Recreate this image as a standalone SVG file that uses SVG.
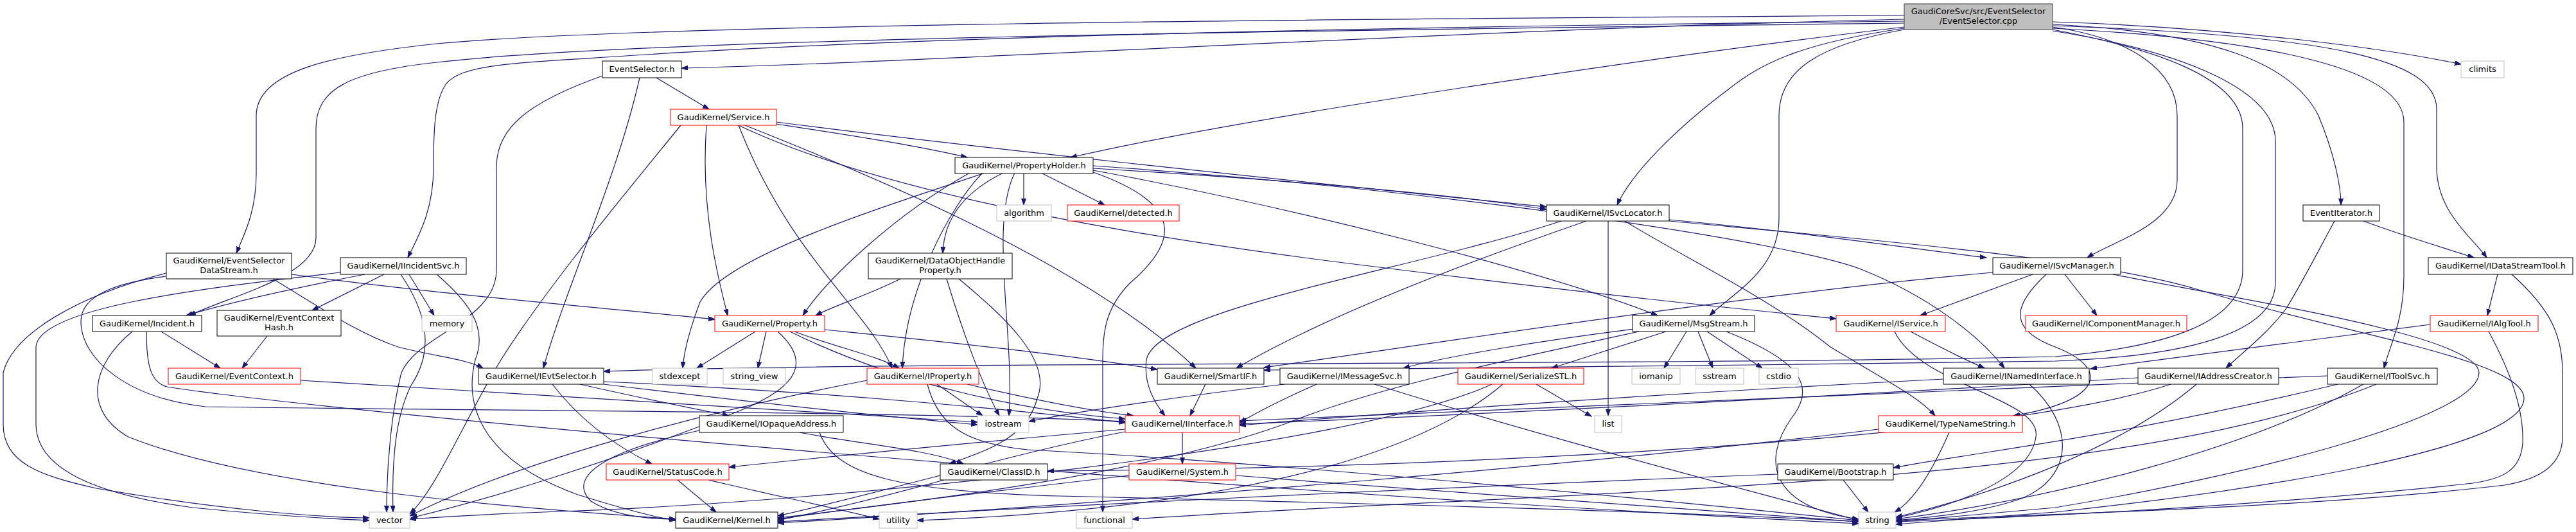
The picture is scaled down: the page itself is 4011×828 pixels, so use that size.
<svg xmlns="http://www.w3.org/2000/svg" width="4011" height="828" viewBox="0 0 4011 828">
<style>
.n rect{fill:#fff;stroke:#000;stroke-width:1}
.g rect{fill:#fff;stroke:#bfbfbf;stroke-width:1}
.r rect{fill:#fff;stroke:#ff0000;stroke-width:1}
.root rect{fill:#bfbfbf;stroke:#404040;stroke-width:1}
text{font-family:"DejaVu Sans","Noto Sans",sans-serif;font-size:13px;text-anchor:middle;fill:#000}
#edges path{fill:none;stroke:#191970;stroke-width:1.2;marker-end:url(#a)}
</style>
<defs>
<marker id="a" markerWidth="11" markerHeight="8" refX="10" refY="3.5" orient="auto" markerUnits="userSpaceOnUse"><path d="M0,0 L10,3.5 L0,7 z" fill="#191970" stroke="#191970" stroke-width="1"/></marker>
</defs>
<rect width="4011" height="828" fill="#fff"/>
<g id="edges">
<path d="M2965,30 C2300,45 1500,95 1061,106"/>
<path d="M2965,24 C2000,30 1000,38 680,68 C520,85 399,110 399,180 L399,270 C399,330 380,365 368,394"/>
<path d="M2965,36 C2000,48 1000,60 680,97 C540,112 492,140 492,200 L492,370 C492,430 360,460 295,491"/>
<path d="M2965,33 C2100,42 1400,58 960,88 C800,98 720,100 695,130 C677,155 675,200 675,260 C675,330 650,370 635,401"/>
<path d="M2965,42 C2600,85 1950,180 1667,245"/>
<path d="M2965,44 C2800,68 2740,100 2690,140 C2610,200 2540,270 2518,319"/>
<path d="M2965,46 C2830,70 2770,110 2770,180 L2770,340 C2770,420 2700,455 2662,491"/>
<path d="M3196,42 C3320,60 3390,110 3390,180 L3390,280 C3390,350 3290,375 3250,401"/>
<path d="M3196,38 C3450,50 3570,100 3610,180 C3635,240 3645,290 3645,319"/>
<path d="M3196,34 C3450,42 3700,72 3832,100"/>
<path d="M3196,40 C3620,55 3794,90 3794,170 L3794,260 C3794,330 3850,370 3872,401"/>
<path d="M3196,44 C3550,62 3743,110 3743,190 L3743,430 C3743,500 3720,540 3712,573"/>
<path d="M3196,46 C3350,75 3492,120 3492,200 L3492,420 C3492,500 3380,540 3200,555 C2500,570 1400,562 940,578"/>
<path d="M3196,48 C3400,80 3543,140 3543,220 L3543,440 C3543,520 3400,555 3200,562 C2800,568 2300,572 1968,576"/>
<path d="M3680,344 C3750,370 3820,390 3852,401"/>
<path d="M3635,344 C3610,390 3590,430 3560,480 C3530,520 3490,550 3466,573"/>
<path d="M3889,427 L3873,491"/>
<path d="M3911,427 C3970,480 3990,520 3990,580 L3990,680 C3990,720 3960,745 3900,755 C3600,790 3200,800 2952,810"/>
<path d="M3875,516 C3910,580 3930,640 3928,690 C3925,730 3900,745 3850,752 C3500,790 3150,805 2952,812"/>
<path d="M3784,505 C3550,535 3350,560 3255,574"/>
<path d="M3329,588 C2800,620 2300,645 1930,660"/>
<path d="M3380,598 C3100,690 2200,730 1631,733"/>
<path d="M3420,598 C3300,700 3100,770 2952,805"/>
<path d="M3624,585 C3000,608 2300,638 1930,655"/>
<path d="M3680,598 C3500,700 3200,775 2952,808"/>
<path d="M3700,598 C3300,760 2500,760 1763,808"/>
<path d="M3640,598 C3300,680 3100,700 2948,728"/>
<path d="M3026,590 C2600,612 2200,640 1930,662"/>
<path d="M3160,598 C3230,660 3230,740 3150,775 C3080,800 3000,805 2952,810"/>
<path d="M2975,516 C3020,540 3060,560 3090,573"/>
<path d="M2950,516 C2990,600 3180,620 3170,680 C3160,750 3030,790 2952,806"/>
<path d="M3165,427 L2990,491"/>
<path d="M3215,427 L3265,491"/>
<path d="M3186,427 C3140,470 3120,510 3200,540 C3290,575 3270,625 3135,647"/>
<path d="M3103,424 C2700,460 2200,540 1968,572"/>
<path d="M3290,427 C3450,460 3860,520 3860,580 C3860,650 3500,740 3200,790 L2952,812"/>
<path d="M2599,342 C2800,360 3000,390 3093,401"/>
<path d="M2504,344 L2504,647"/>
<path d="M2530,344 C2620,400 2750,460 2850,540 C2950,600 2990,620 3013,647"/>
<path d="M2431,344 C2200,420 1800,480 1785,560 C1780,600 1800,630 1814,647"/>
<path d="M2470,344 C2250,420 2050,500 1925,573"/>
<path d="M2599,344 C2900,372 3250,400 3420,450 C3650,520 3930,560 3930,620 C3930,700 3500,765 3200,797 L2952,816"/>
<path d="M2626,516 L2591,573"/>
<path d="M2644,516 L2667,573"/>
<path d="M2658,516 L2744,573"/>
<path d="M2594,516 L2416,573"/>
<path d="M2545,512 C2400,530 2250,555 2185,573"/>
<path d="M2688,516 C2800,560 2830,600 2790,650 C2740,720 2760,790 2894,808"/>
<path d="M2552,516 C2350,560 2150,600 2000,660 C1780,740 1400,785 1211,806"/>
<path d="M2050,598 C2000,620 1960,640 1930,658"/>
<path d="M2000,598 C1850,615 1680,640 1602,656"/>
<path d="M2140,598 C2400,680 2750,770 2894,810"/>
<path d="M2392,598 L2478,648"/>
<path d="M2323,598 C2100,700 1300,780 900,795 C750,800 680,805 638,808"/>
<path d="M2340,598 C2150,760 1700,800 1428,810"/>
<path d="M1089,670 C950,700 880,740 920,780 C960,805 1020,808 1052,808"/>
<path d="M1245,673 C1330,690 1450,700 1500,722"/>
<path d="M1276,673 C1300,740 1400,765 1650,772 C2200,785 2700,800 2894,812"/>
<path d="M860,598 C900,650 950,690 1015,722"/>
<path d="M903,598 C1000,620 1100,640 1135,647"/>
<path d="M940,594 C1300,610 1600,640 1752,658"/>
<path d="M940,598 C1200,630 1400,650 1522,661"/>
<path d="M1459,598 L1530,647"/>
<path d="M1506,598 C1600,620 1700,640 1765,647"/>
<path d="M1444,598 C1460,660 1500,690 1600,700 C2000,720 2600,780 2894,810"/>
<path d="M1350,592 C1100,640 800,720 638,803"/>
<path d="M1176,516 L1085,573"/>
<path d="M1193,516 L1180,573"/>
<path d="M1237,516 C1300,540 1370,555 1400,573"/>
<path d="M1211,516 C1260,560 1250,600 1150,640 C950,720 750,780 640,806"/>
<path d="M1230,516 C1400,600 1600,640 1752,652"/>
<path d="M1284,513 C1450,530 1650,550 1802,575"/>
<path d="M1402,434 C1350,460 1300,475 1270,491"/>
<path d="M1474,434 C1500,520 1530,600 1556,647"/>
<path d="M1493,434 C1560,490 1640,560 1615,620 C1600,680 1540,700 1478,722"/>
<path d="M468,592 C800,610 1200,640 1522,657"/>
<path d="M416,523 L377,573"/>
<path d="M251,516 L343,573"/>
<path d="M206,516 C140,570 130,640 200,680 C400,760 800,790 1052,808"/>
<path d="M228,516 C228,570 235,595 260,602 C500,640 1800,760 2894,815"/>
<path d="M568,427 C450,450 360,470 290,491"/>
<path d="M598,427 L486,483"/>
<path d="M637,427 L676,491"/>
<path d="M530,424 C300,450 60,480 56,540 L56,660 C56,730 150,770 300,790 C450,805 530,808 575,810"/>
<path d="M624,427 C660,480 680,540 640,600 C615,650 610,720 612,797"/>
<path d="M680,427 C730,470 760,510 740,560 C720,640 760,720 900,770 C980,795 1020,805 1052,810"/>
<path d="M259,425 C120,460 20,520 5,580 L5,660 C5,720 60,740 150,760 C350,795 500,805 575,806"/>
<path d="M259,430 C180,440 126,460 126,500 C126,560 200,620 320,633 C800,640 1400,640 1752,656"/>
<path d="M454,427 C700,460 950,480 1113,497"/>
<path d="M425,434 C500,480 560,520 620,540 C680,555 730,560 752,573"/>
<path d="M1055,747 L1115,797"/>
<path d="M1103,747 C1200,770 1320,795 1369,808"/>
<path d="M1841,673 L1841,722"/>
<path d="M1752,668 C1500,690 1250,715 1135,727"/>
<path d="M1752,672 C1600,700 1400,760 1211,803"/>
<path d="M1758,740 C1500,770 1300,795 1211,808"/>
<path d="M1924,740 C2300,770 2700,800 2894,812"/>
<path d="M1470,747 C1350,780 1260,800 1211,810"/>
<path d="M1877,598 L1853,647"/>
<path d="M2870,747 L2909,797"/>
<path d="M2768,738 C2200,760 1600,790 1211,812"/>
<path d="M3035,673 C3010,730 2980,780 2950,797"/>
<path d="M2925,668 C2500,720 1800,780 1211,814"/>
<path d="M1022,121 L1104,170"/>
<path d="M996,121 C960,280 880,450 846,573"/>
<path d="M938,118 C820,160 773,200 773,260 L773,420 C773,500 650,520 625,580 C610,640 602,720 602,797"/>
<path d="M1209,193 C1320,210 1420,225 1506,245"/>
<path d="M1209,190 C1600,240 2100,290 2408,322"/>
<path d="M1150,195 C1350,290 1700,360 2100,410 S2700,480 2859,496"/>
<path d="M1100,195 C1090,330 1120,440 1133,491"/>
<path d="M1150,195 C1230,400 1350,480 1389,573"/>
<path d="M1160,195 C1400,290 1700,420 1862,573"/>
<path d="M1060,195 C950,330 850,450 780,560 C720,660 680,760 638,800"/>
<path d="M1594,269 L1594,319"/>
<path d="M1621,269 L1720,319"/>
<path d="M1562,269 C1500,300 1470,340 1468,394"/>
<path d="M1702,262 C2000,280 2250,300 2408,326"/>
<path d="M1702,265 C2000,320 2400,420 2581,491"/>
<path d="M1530,269 C1480,320 1410,450 1405,573"/>
<path d="M1510,269 C1400,330 1290,430 1250,491"/>
<path d="M1534,269 C1350,330 1130,400 1090,470 C1075,510 1065,545 1063,573"/>
<path d="M1580,269 C1540,350 1580,520 1571,647"/>
<path d="M1702,268 C1850,320 1830,380 1760,440 C1720,480 1717,520 1717,560 L1717,797"/>
<path d="M1702,258 C2300,300 2800,380 2900,420 C3000,460 3080,520 3121,573"/>
</g>
<g id="n_root" class="root"><rect x="2965" y="6" width="231" height="40"/><text x="3080.5" y="22">GaudiCoreSvc/src/EventSelector</text><text x="3080.5" y="37">/EventSelector.cpp</text></g>
<g id="n_es" class="n"><rect x="938" y="95" width="123" height="26"/><text x="999.5" y="112">EventSelector.h</text></g>
<g id="n_climits" class="g"><rect x="3832" y="95" width="67" height="26"/><text x="3865.5" y="112">climits</text></g>
<g id="n_service" class="r"><rect x="1044" y="170" width="165" height="25"/><text x="1126.5" y="187">GaudiKernel/Service.h</text></g>
<g id="n_propholder" class="n"><rect x="1487" y="245" width="215" height="25"/><text x="1594.5" y="262">GaudiKernel/PropertyHolder.h</text></g>
<g id="n_algorithm" class="g"><rect x="1552" y="319" width="85" height="25"/><text x="1594.5" y="336">algorithm</text></g>
<g id="n_detected" class="r"><rect x="1662" y="319" width="174" height="25"/><text x="1749" y="336">GaudiKernel/detected.h</text></g>
<g id="n_svclocator" class="n"><rect x="2408" y="319" width="191" height="25"/><text x="2503.5" y="336">GaudiKernel/ISvcLocator.h</text></g>
<g id="n_eventiterator" class="n"><rect x="3586" y="319" width="119" height="25"/><text x="3645.5" y="336">EventIterator.h</text></g>
<g id="n_esds" class="n"><rect x="259" y="394" width="195" height="40"/><text x="356.5" y="410">GaudiKernel/EventSelector</text><text x="356.5" y="425">DataStream.h</text></g>
<g id="n_iincidentsvc" class="n"><rect x="530" y="401" width="196" height="26"/><text x="628" y="418">GaudiKernel/IIncidentSvc.h</text></g>
<g id="n_dohp" class="n"><rect x="1352" y="394" width="224" height="40"/><text x="1464" y="410">GaudiKernel/DataObjectHandle</text><text x="1464" y="425">Property.h</text></g>
<g id="n_svcmanager" class="n"><rect x="3103" y="401" width="199" height="26"/><text x="3202.5" y="418">GaudiKernel/ISvcManager.h</text></g>
<g id="n_datastreamtool" class="n"><rect x="3781" y="401" width="225" height="26"/><text x="3893.5" y="418">GaudiKernel/IDataStreamTool.h</text></g>
<g id="n_incident" class="n"><rect x="144" y="491" width="170" height="25"/><text x="229" y="508">GaudiKernel/Incident.h</text></g>
<g id="n_ech" class="n"><rect x="338" y="483" width="193" height="40"/><text x="434.5" y="499">GaudiKernel/EventContext</text><text x="434.5" y="514">Hash.h</text></g>
<g id="n_memory" class="g"><rect x="657" y="491" width="78" height="25"/><text x="696" y="508">memory</text></g>
<g id="n_property" class="r"><rect x="1113" y="491" width="171" height="25"/><text x="1198.5" y="508">GaudiKernel/Property.h</text></g>
<g id="n_msgstream" class="n"><rect x="2542" y="491" width="190" height="25"/><text x="2637" y="508">GaudiKernel/MsgStream.h</text></g>
<g id="n_iservice" class="r"><rect x="2859" y="491" width="170" height="25"/><text x="2944" y="508">GaudiKernel/IService.h</text></g>
<g id="n_icompmgr" class="r"><rect x="3154" y="491" width="251" height="25"/><text x="3279.5" y="508">GaudiKernel/IComponentManager.h</text></g>
<g id="n_ialgtool" class="r"><rect x="3784" y="491" width="168" height="25"/><text x="3868" y="508">GaudiKernel/IAlgTool.h</text></g>
<g id="n_eventcontext" class="r"><rect x="262" y="573" width="206" height="25"/><text x="365" y="590">GaudiKernel/EventContext.h</text></g>
<g id="n_ievtselector" class="n"><rect x="745" y="573" width="195" height="25"/><text x="842.5" y="590">GaudiKernel/IEvtSelector.h</text></g>
<g id="n_stdexcept" class="g"><rect x="1016" y="573" width="85" height="25"/><text x="1058.5" y="590">stdexcept</text></g>
<g id="n_string_view" class="g"><rect x="1126" y="573" width="97" height="25"/><text x="1174.5" y="590">string_view</text></g>
<g id="n_iproperty" class="r"><rect x="1350" y="573" width="174" height="25"/><text x="1437" y="590">GaudiKernel/IProperty.h</text></g>
<g id="n_smartif" class="n"><rect x="1802" y="573" width="166" height="25"/><text x="1885" y="590">GaudiKernel/SmartIF.h</text></g>
<g id="n_imessagesvc" class="n"><rect x="1993" y="573" width="201" height="25"/><text x="2093.5" y="590">GaudiKernel/IMessageSvc.h</text></g>
<g id="n_serializestl" class="r"><rect x="2270" y="573" width="196" height="25"/><text x="2368" y="590">GaudiKernel/SerializeSTL.h</text></g>
<g id="n_iomanip" class="g"><rect x="2541" y="573" width="75" height="25"/><text x="2578.5" y="590">iomanip</text></g>
<g id="n_sstream" class="g"><rect x="2640" y="573" width="75" height="25"/><text x="2677.5" y="590">sstream</text></g>
<g id="n_cstdio" class="g"><rect x="2739" y="573" width="61" height="25"/><text x="2769.5" y="590">cstdio</text></g>
<g id="n_inamedinterface" class="n"><rect x="3026" y="573" width="227" height="25"/><text x="3139.5" y="590">GaudiKernel/INamedInterface.h</text></g>
<g id="n_iaddresscreator" class="n"><rect x="3329" y="573" width="219" height="25"/><text x="3438.5" y="590">GaudiKernel/IAddressCreator.h</text></g>
<g id="n_itoolsvc" class="n"><rect x="3624" y="573" width="171" height="25"/><text x="3709.5" y="590">GaudiKernel/IToolSvc.h</text></g>
<g id="n_iopaqueaddress" class="n"><rect x="1089" y="647" width="224" height="26"/><text x="1201" y="664">GaudiKernel/IOpaqueAddress.h</text></g>
<g id="n_iostream" class="g"><rect x="1522" y="647" width="80" height="26"/><text x="1562" y="664">iostream</text></g>
<g id="n_iinterface" class="r"><rect x="1752" y="647" width="178" height="26"/><text x="1841" y="664">GaudiKernel/IInterface.h</text></g>
<g id="n_list" class="g"><rect x="2483" y="647" width="42" height="26"/><text x="2504" y="664">list</text></g>
<g id="n_typenamestring" class="r"><rect x="2925" y="647" width="224" height="26"/><text x="3037" y="664">GaudiKernel/TypeNameString.h</text></g>
<g id="n_statuscode" class="r"><rect x="944" y="722" width="191" height="25"/><text x="1039.5" y="739">GaudiKernel/StatusCode.h</text></g>
<g id="n_classid" class="n"><rect x="1464" y="722" width="167" height="25"/><text x="1547.5" y="739">GaudiKernel/ClassID.h</text></g>
<g id="n_system" class="r"><rect x="1758" y="722" width="166" height="25"/><text x="1841" y="739">GaudiKernel/System.h</text></g>
<g id="n_bootstrap" class="n"><rect x="2768" y="722" width="180" height="25"/><text x="2858" y="739">GaudiKernel/Bootstrap.h</text></g>
<g id="n_vector" class="g"><rect x="575" y="797" width="63" height="25"/><text x="606.5" y="814">vector</text></g>
<g id="n_kernel" class="n"><rect x="1052" y="797" width="159" height="25"/><text x="1131.5" y="814">GaudiKernel/Kernel.h</text></g>
<g id="n_utility" class="g"><rect x="1369" y="797" width="59" height="25"/><text x="1398.5" y="814">utility</text></g>
<g id="n_functional" class="g"><rect x="1676" y="797" width="87" height="25"/><text x="1719.5" y="814">functional</text></g>
<g id="n_string" class="g"><rect x="2894" y="797" width="58" height="25"/><text x="2923" y="814">string</text></g>
</svg>
